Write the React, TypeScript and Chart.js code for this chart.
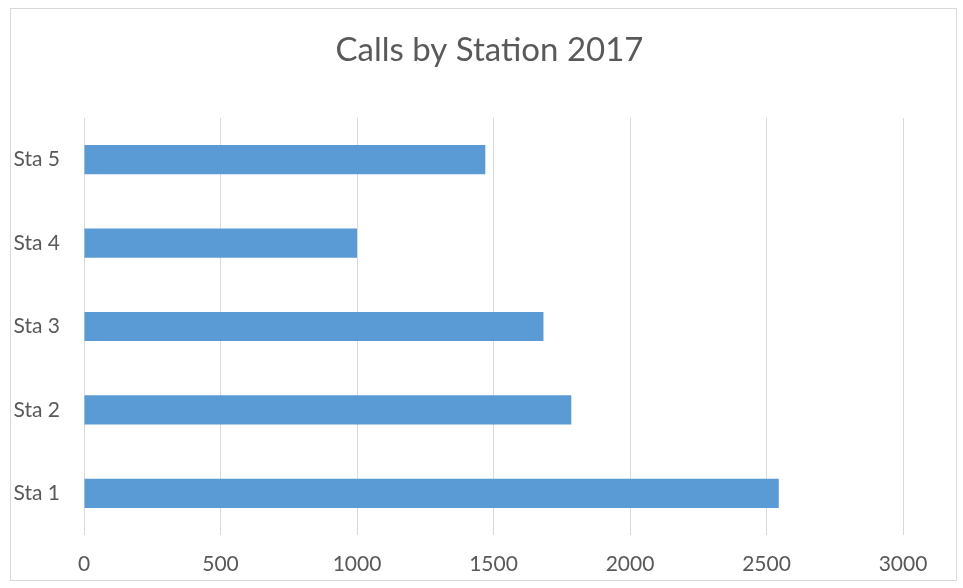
import React, { useEffect, useRef } from "react";
import { Chart, registerables } from "chart.js";

Chart.register(...registerables);

const categories = ["Sta 1", "Sta 2", "Sta 3", "Sta 4", "Sta 5"];
const calls = [2545, 1785, 1683, 1000, 1470];
const xTicks = [0, 500, 1000, 1500, 2000, 2500, 3000];
const titleText = "Calls by Station 2017";

const FONT = "Lato, 'Open Sans', sans-serif";
const TEXT = "#595959";
const GRID = "#d9d9d9";
const BAR = "#5B9BD5";

const titlePlugin = {
  id: "centerTitle",
  afterDraw(chart: any) {
    const ctx = chart.ctx;
    ctx.save();
    ctx.fillStyle = TEXT;
    ctx.font = `normal 33px ${FONT}`;
    ctx.textAlign = "center";
    ctx.textBaseline = "middle";
    ctx.fillText(titleText, chart.width / 2 + 8, 50);
    ctx.restore();
  },
};

export default function App() {
  const ref = useRef<HTMLCanvasElement | null>(null);

  useEffect(() => {
    if (!ref.current) return;
    const chart = new Chart(ref.current, {
      type: "bar",
      data: {
        labels: categories,
        datasets: [
          {
            label: "Calls",
            data: calls,
            backgroundColor: BAR,
            borderWidth: 0,
            categoryPercentage: 1,
            barPercentage: 0.35,
          },
        ],
      },
      plugins: [titlePlugin],
      options: {
        indexAxis: "y",
        animation: false,
        responsive: false,
        maintainAspectRatio: false,
        layout: { padding: { left: 0, right: 60, top: 118, bottom: 0 } },
        plugins: {
          legend: { display: false },
          tooltip: { enabled: false },
          title: { display: false },
        },
        scales: {
          x: {
            min: 0,
            max: 3000,
            afterBuildTicks: (scale: any) => {
              scale.ticks = xTicks.map((v) => ({ value: v }));
            },
            afterFit: (scale: any) => {
              scale.height = 53;
            },
            grid: { color: GRID, lineWidth: 1, drawTicks: false },
            border: { display: false },
            ticks: {
              color: TEXT,
              padding: 17,
              font: { family: FONT, size: 21 },
              callback: (v: any) => String(v),
            },
          },
          y: {
            reverse: true,
            afterFit: (scale: any) => {
              scale.width = 84;
            },
            grid: { display: false, drawTicks: false },
            border: { display: false },
            ticks: {
              color: TEXT,
              padding: 24,
              font: { family: FONT, size: 21 },
            },
          },
        },
      },
    });
    return () => chart.destroy();
  }, []);

  return (
    <div
      style={{
        position: "fixed",
        left: 0,
        top: 0,
        width: 963,
        height: 588,
        background: "#ffffff",
      }}
    >
      <div
        style={{
          position: "absolute",
          left: 10,
          top: 8,
          width: 947,
          height: 573,
          border: "1px solid #d9d9d9",
          boxSizing: "border-box",
        }}
      />
      <canvas
        ref={ref}
        width={963}
        height={588}
        style={{ position: "absolute", left: 0, top: 0, width: 963, height: 588 }}
      />
    </div>
  );
}
